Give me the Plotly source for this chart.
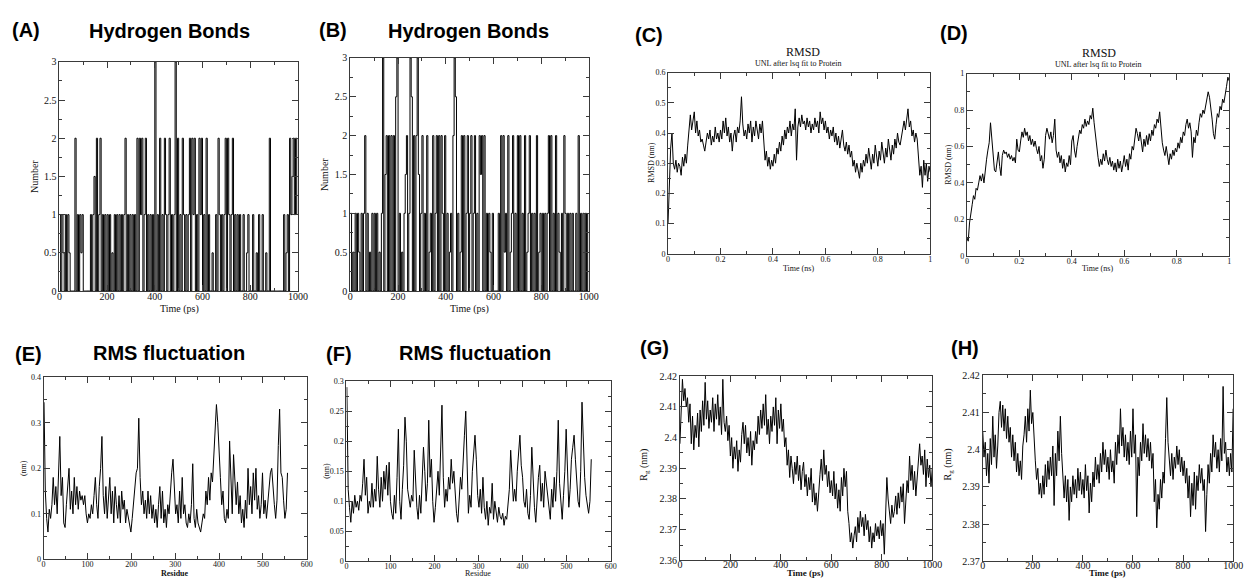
import plotly.graph_objects as go

# ---------------- DATA ----------------
hb_time = list(range(0, 1000, 5))  # ps
hbond_A = [
    1, 0, 1, 0.5, 0, 1, 0, 1, 0.5, 0, 0, 0, 0, 2, 0, 1, 0, 1, 0.5, 1,
    0, 0, 0, 0, 0, 0, 1, 0, 1, 1.5, 0, 2, 0, 1, 2, 0, 1, 0, 1, 0,
    1, 0, 1, 0, 0.5, 0, 1, 0, 1, 0, 1, 0, 1, 0, 1, 2, 0, 1, 0, 1,
    0, 1, 0, 1, 0, 2, 0, 2, 1, 2, 0, 1, 2, 0, 1, 0, 1, 0, 1, 0,
    3, 0, 1, 0, 2, 0, 1, 0, 2, 1, 0, 1, 2, 0, 1, 0, 1, 3, 0, 2,
    0, 1, 0, 2, 1, 0, 1, 0, 1, 2, 0, 2, 1, 2, 0, 1, 0, 2, 1, 2,
    0, 1, 0, 2, 0, 1, 0, 0, 0.5, 0, 0, 1, 0, 2, 1, 0, 1, 0, 1, 2,
    0, 2, 1, 0, 1, 2, 0, 1, 0, 1, 0, 1, 0, 0, 1, 0, 0, 0.5, 1, 0,
    0, 0, 1, 0, 0, 0.5, 0, 1, 0, 0, 1, 0, 0, 0.5, 0, 0, 2, 0, 0, 0,
    0, 0, 0, 0, 0, 0, 0, 0, 1, 0, 0.5, 1, 0, 2, 1, 1.5, 2, 1, 2, 1,
]
hbond_B = [
    1, 0, 0.5, 0, 1, 0, 1, 0.5, 0, 1, 0, 1, 2, 0, 1, 0, 0.5, 0, 1, 0,
    1, 0, 1, 0, 0.5, 0, 1, 3, 0, 1.5, 2, 0, 2, 0, 2, 0, 2, 0, 2.5, 3,
    0, 1, 0, 0.5, 0, 1, 1.5, 2, 0, 1, 3, 2.5, 0, 2, 0, 2, 3, 1.5, 0, 1,
    2, 0, 1, 0, 2, 0, 0.5, 1, 0, 2, 0, 1, 2, 0, 2, 0, 2, 1, 0, 2,
    0, 1, 0, 0.5, 1, 0, 2, 3, 2.5, 0, 1, 0, 0.5, 2, 0, 2, 0, 1, 2, 0,
    1, 2, 0, 1, 2, 0, 1, 0, 2, 1.5, 2, 0, 2, 0, 1, 0, 1, 0.5, 0, 1,
    0, 0, 0, 0, 1, 0, 2, 0, 2, 0.5, 1, 0, 2, 0, 0.5, 1, 2, 0, 1, 0,
    2, 0, 2, 0, 1, 0, 2, 0, 0.5, 1, 2, 0, 1, 0, 1, 0, 2, 0, 0.5, 1,
    0, 1, 0, 1, 0, 1, 2, 0, 2, 0, 1, 0, 2, 0, 1, 0.5, 0, 1, 0, 2,
    1, 0, 1, 0, 1, 0, 1, 0, 0, 1, 0, 2, 0, 1, 0, 1, 0, 1, 0, 1,
]

rmsd_time = [i * 0.005 for i in range(201)]  # ns
rmsd_C = [
    0.10, 0.26, 0.35, 0.40, 0.30, 0.28, 0.31, 0.27, 0.30, 0.29, 0.26, 0.32, 0.29, 0.33, 0.30, 0.36, 0.43, 0.46, 0.41, 0.45,
    0.47, 0.40, 0.44, 0.39, 0.41, 0.37, 0.38, 0.36, 0.34, 0.37, 0.40, 0.38, 0.41, 0.36, 0.39, 0.37, 0.42, 0.38, 0.40, 0.37,
    0.41, 0.38, 0.44, 0.40, 0.45, 0.39, 0.42, 0.37, 0.40, 0.34, 0.39, 0.41, 0.37, 0.42, 0.40, 0.44, 0.52, 0.43, 0.39, 0.41,
    0.38, 0.43, 0.40, 0.44, 0.37, 0.42, 0.39, 0.44, 0.41, 0.38, 0.43, 0.40, 0.44, 0.36, 0.31, 0.34, 0.29, 0.32, 0.28, 0.31,
    0.29, 0.33, 0.30, 0.35, 0.33, 0.37, 0.34, 0.39, 0.36, 0.41, 0.38, 0.42, 0.40, 0.44, 0.39, 0.43, 0.41, 0.48, 0.31, 0.42,
    0.45, 0.42, 0.46, 0.43, 0.44, 0.41, 0.45, 0.42, 0.44, 0.40, 0.43, 0.41, 0.45, 0.42, 0.44, 0.40, 0.47, 0.43, 0.45, 0.41,
    0.44, 0.40, 0.42, 0.38, 0.41, 0.39, 0.42, 0.37, 0.40, 0.36, 0.39, 0.35, 0.38, 0.41, 0.36, 0.34, 0.37, 0.33, 0.36, 0.32,
    0.34, 0.29, 0.31, 0.27, 0.30, 0.28, 0.25, 0.30, 0.27, 0.31, 0.29, 0.33, 0.30, 0.35, 0.31, 0.28, 0.33, 0.30, 0.36, 0.32,
    0.29, 0.34, 0.31, 0.37, 0.33, 0.30, 0.35, 0.32, 0.38, 0.34, 0.31, 0.36, 0.33, 0.38, 0.35, 0.40, 0.37, 0.36, 0.39, 0.42,
    0.44, 0.41, 0.45, 0.48, 0.42, 0.44, 0.39, 0.41, 0.37, 0.40, 0.38, 0.33, 0.26, 0.29, 0.22, 0.31, 0.26, 0.30, 0.24, 0.29,
    0.27,
]
rmsd_D = [
    0.10, 0.08, 0.18, 0.22, 0.28, 0.33, 0.31, 0.37, 0.36, 0.40, 0.44, 0.41, 0.45, 0.40, 0.49, 0.53, 0.58, 0.62, 0.73, 0.64,
    0.58, 0.47, 0.46, 0.51, 0.57, 0.49, 0.44, 0.55, 0.58, 0.56, 0.57, 0.54, 0.56, 0.53, 0.55, 0.52, 0.54, 0.51, 0.64, 0.58,
    0.57, 0.63, 0.68, 0.65, 0.70, 0.66, 0.68, 0.63, 0.66, 0.61, 0.64, 0.60, 0.63, 0.59, 0.56, 0.60, 0.52, 0.55, 0.48, 0.53,
    0.66, 0.70, 0.67, 0.64, 0.68, 0.62, 0.66, 0.75, 0.58, 0.54, 0.57, 0.51, 0.55, 0.48, 0.53, 0.46, 0.51, 0.49, 0.55, 0.50,
    0.63, 0.66, 0.58, 0.54, 0.60, 0.66, 0.69, 0.67, 0.72, 0.70, 0.75, 0.71, 0.74, 0.72, 0.77, 0.75, 0.81, 0.73, 0.66, 0.58,
    0.54, 0.49, 0.53, 0.50, 0.56, 0.52, 0.58, 0.53, 0.50, 0.54, 0.49, 0.52, 0.47, 0.51, 0.46, 0.53, 0.48, 0.52, 0.46, 0.50,
    0.55, 0.49, 0.53, 0.47, 0.56, 0.53, 0.60, 0.58, 0.66, 0.70, 0.67, 0.63, 0.68, 0.62, 0.57, 0.64, 0.60, 0.66, 0.61, 0.67,
    0.63, 0.69, 0.66, 0.72, 0.70, 0.75, 0.73, 0.79, 0.70, 0.62, 0.58, 0.55, 0.60, 0.54, 0.50, 0.56, 0.53, 0.58, 0.55, 0.59,
    0.57, 0.62, 0.59, 0.65, 0.62, 0.68, 0.66, 0.72, 0.75, 0.70, 0.73, 0.68, 0.54, 0.65, 0.62, 0.69, 0.66, 0.73, 0.78, 0.76,
    0.80, 0.78, 0.82, 0.86, 0.90, 0.87, 0.82, 0.75, 0.67, 0.64, 0.72, 0.78, 0.76, 0.82, 0.80, 0.86, 0.84, 0.90, 0.93, 0.98,
    0.96,
]

residues = list(range(1, 557, 3))
rmsf_E = [
    0.345, 0.15, 0.09, 0.06, 0.11, 0.09, 0.12, 0.18, 0.12, 0.16, 0.10, 0.20, 0.27, 0.14, 0.18, 0.08, 0.07, 0.12, 0.16, 0.20,
    0.11, 0.15, 0.10, 0.18, 0.12, 0.16, 0.11, 0.15, 0.13, 0.14, 0.12, 0.14, 0.10, 0.08, 0.10, 0.09, 0.12, 0.10, 0.14, 0.18,
    0.12, 0.09, 0.16, 0.20, 0.27, 0.14, 0.10, 0.16, 0.09, 0.13, 0.18, 0.10, 0.15, 0.08, 0.16, 0.12, 0.09, 0.14, 0.08, 0.15,
    0.11, 0.13, 0.08, 0.11, 0.09, 0.07, 0.06, 0.09, 0.12, 0.16, 0.19, 0.20, 0.31, 0.18, 0.12, 0.15, 0.10, 0.13, 0.09, 0.15,
    0.10, 0.14, 0.09, 0.12, 0.08, 0.11, 0.07, 0.12, 0.16, 0.09, 0.15, 0.08, 0.11, 0.07, 0.12, 0.10, 0.15, 0.19, 0.22, 0.14,
    0.10, 0.12, 0.08, 0.15, 0.09, 0.18, 0.10, 0.12, 0.08, 0.07, 0.10, 0.08, 0.12, 0.21, 0.09, 0.07, 0.11, 0.08, 0.07, 0.06,
    0.08, 0.10, 0.09, 0.15, 0.12, 0.18, 0.13, 0.19, 0.17, 0.23, 0.27, 0.34, 0.30, 0.25, 0.18, 0.12, 0.15, 0.09, 0.08, 0.11,
    0.09, 0.26, 0.15, 0.10, 0.23, 0.18, 0.12, 0.17, 0.10, 0.14, 0.08, 0.11, 0.07, 0.13, 0.09, 0.20, 0.12, 0.16, 0.10, 0.19,
    0.13, 0.20, 0.11, 0.14, 0.09, 0.12, 0.19, 0.10, 0.13, 0.09, 0.12, 0.16, 0.19, 0.20, 0.15, 0.12, 0.09, 0.13, 0.25, 0.33,
    0.19, 0.18, 0.13, 0.09, 0.11, 0.19,
]
rmsf_F = [
    0.29, 0.12, 0.09, 0.065, 0.10, 0.08, 0.11, 0.09, 0.10, 0.085, 0.11, 0.10, 0.13, 0.17, 0.11, 0.14, 0.08, 0.10, 0.09, 0.13,
    0.09, 0.12, 0.10, 0.175, 0.12, 0.09, 0.14, 0.10, 0.15, 0.12, 0.16, 0.11, 0.165, 0.10, 0.08, 0.07, 0.11, 0.08, 0.14, 0.22,
    0.10, 0.07, 0.12, 0.16, 0.24, 0.20, 0.12, 0.10, 0.09, 0.11, 0.10, 0.185, 0.12, 0.09, 0.07, 0.11, 0.08, 0.14, 0.19, 0.15,
    0.10, 0.13, 0.235, 0.14, 0.17, 0.10, 0.065, 0.09, 0.12, 0.15, 0.11, 0.18, 0.26, 0.14, 0.09, 0.12, 0.10, 0.14, 0.12, 0.17,
    0.13, 0.15, 0.11, 0.08, 0.065, 0.10, 0.14, 0.12, 0.18, 0.21, 0.25, 0.14, 0.08, 0.11, 0.09, 0.15, 0.19, 0.21, 0.17, 0.11,
    0.09, 0.12, 0.08, 0.14, 0.09, 0.07, 0.10, 0.06, 0.09, 0.08, 0.13, 0.07, 0.10, 0.08, 0.065, 0.09, 0.075, 0.07, 0.08, 0.06,
    0.075, 0.07, 0.09, 0.12, 0.185, 0.13, 0.10, 0.12, 0.10, 0.15, 0.18, 0.21, 0.16, 0.14, 0.10, 0.09, 0.12, 0.08, 0.07, 0.11,
    0.19, 0.12, 0.09, 0.065, 0.11, 0.14, 0.16, 0.10, 0.13, 0.09, 0.15, 0.13, 0.10, 0.08, 0.07, 0.12, 0.09, 0.14, 0.10, 0.15,
    0.235, 0.13, 0.09, 0.07, 0.11, 0.15, 0.22, 0.14, 0.09, 0.12, 0.17, 0.19, 0.21, 0.17, 0.13, 0.10, 0.09, 0.15, 0.265, 0.20,
    0.14, 0.11, 0.09, 0.08, 0.10, 0.17,
]

rg_time = list(range(0, 1001, 5))  # ps
rg_G = [
    2.398, 2.408, 2.419, 2.412, 2.416, 2.410, 2.413, 2.405, 2.411, 2.398, 2.407, 2.396, 2.404, 2.400, 2.408, 2.397, 2.409, 2.402, 2.412, 2.404,
    2.418, 2.406, 2.412, 2.403, 2.409, 2.405, 2.413, 2.402, 2.411, 2.406, 2.414, 2.404, 2.410, 2.401, 2.419, 2.405, 2.402, 2.407, 2.399, 2.404,
    2.394, 2.400, 2.390, 2.397, 2.393, 2.399, 2.389, 2.396, 2.392, 2.401, 2.405, 2.398, 2.404, 2.395, 2.400, 2.394, 2.402, 2.391, 2.399, 2.396,
    2.402, 2.398, 2.407, 2.401, 2.409, 2.403, 2.411, 2.404, 2.414, 2.401, 2.406, 2.398, 2.407, 2.402, 2.410, 2.404, 2.413, 2.398, 2.409, 2.403,
    2.411, 2.402, 2.406, 2.397, 2.400, 2.391, 2.396, 2.387, 2.394, 2.390, 2.385, 2.392, 2.388, 2.394, 2.386, 2.391, 2.383, 2.389, 2.392, 2.384,
    2.388, 2.381, 2.387, 2.383, 2.390, 2.379, 2.385, 2.378, 2.382, 2.376, 2.384, 2.388, 2.393, 2.386, 2.396, 2.388, 2.391, 2.384, 2.389, 2.382,
    2.386, 2.381, 2.389, 2.380, 2.385, 2.377, 2.383, 2.376, 2.387, 2.381, 2.390, 2.384, 2.389, 2.376, 2.372, 2.366, 2.369, 2.364, 2.368, 2.371,
    2.366, 2.374, 2.369, 2.376, 2.371, 2.374, 2.368, 2.375, 2.370, 2.373, 2.366, 2.371, 2.364, 2.369, 2.366, 2.372, 2.368, 2.371, 2.367, 2.373,
    2.368, 2.372, 2.362, 2.377, 2.387, 2.380, 2.376, 2.372, 2.378, 2.374, 2.376, 2.381, 2.375, 2.382, 2.377, 2.384, 2.379, 2.385, 2.372, 2.381,
    2.386, 2.382, 2.394, 2.386, 2.391, 2.383, 2.389, 2.381, 2.386, 2.392, 2.398, 2.391, 2.394, 2.388, 2.396, 2.384, 2.393, 2.387, 2.391, 2.384,
    2.390,
]
rg_H = [
    2.405, 2.398, 2.402, 2.393, 2.399, 2.391, 2.403, 2.396, 2.409, 2.398, 2.404, 2.395, 2.401, 2.410, 2.413, 2.406, 2.412, 2.405, 2.411, 2.403,
    2.409, 2.402, 2.406, 2.398, 2.404, 2.397, 2.402, 2.394, 2.399, 2.393, 2.397, 2.392, 2.401, 2.404, 2.409, 2.402, 2.411, 2.405, 2.416, 2.407,
    2.410, 2.401, 2.397, 2.392, 2.395, 2.388, 2.391, 2.387, 2.393, 2.388, 2.396, 2.390, 2.397, 2.392, 2.398, 2.393, 2.401, 2.385, 2.399, 2.393,
    2.405, 2.397, 2.409, 2.399, 2.394, 2.387, 2.393, 2.386, 2.392, 2.381, 2.390, 2.386, 2.393, 2.388, 2.392, 2.387, 2.395, 2.389, 2.394, 2.388,
    2.392, 2.387, 2.396, 2.389, 2.393, 2.383, 2.391, 2.386, 2.394, 2.390, 2.398, 2.392, 2.396, 2.391, 2.399, 2.394, 2.402, 2.396, 2.400, 2.394,
    2.398, 2.392, 2.400, 2.394, 2.397, 2.391, 2.402, 2.396, 2.404, 2.399, 2.411, 2.401, 2.406, 2.398, 2.404, 2.397, 2.402, 2.396, 2.405, 2.398,
    2.411, 2.399, 2.404, 2.382, 2.398, 2.393, 2.402, 2.397, 2.407, 2.399, 2.404, 2.398, 2.403, 2.397, 2.402, 2.395, 2.399, 2.386, 2.392, 2.379,
    2.388, 2.384, 2.392, 2.387, 2.394, 2.391, 2.403, 2.414, 2.402, 2.397, 2.393, 2.399, 2.392, 2.398, 2.395, 2.401, 2.396, 2.400, 2.394, 2.398,
    2.393, 2.397, 2.391, 2.395, 2.387, 2.393, 2.382, 2.391, 2.385, 2.394, 2.384, 2.393, 2.389, 2.396, 2.391, 2.395, 2.389, 2.392, 2.378, 2.388,
    2.396, 2.391, 2.399, 2.394, 2.404, 2.398, 2.402, 2.395, 2.400, 2.394, 2.403, 2.397, 2.417, 2.399, 2.402, 2.394, 2.398, 2.393, 2.399, 2.394,
    2.411,
]

# ---------------- LAYOUT ----------------
W, H = 1255, 584
SERIF = "Liberation Serif, Times New Roman, serif"
SANS = "Liberation Sans, Arial, sans-serif"
AXC = "#3a3a3a"


def xd(a, b):
    return [a / W, b / W]


def yd(top, bottom):
    return [1 - bottom / H, 1 - top / H]


# (x_px, y_px, xrange, xdtick, xminor, yrange, ydtick, yminor, tickfont size, x label standoff)
panels = [
    ((57, 298), (57, 291), [0, 1000], 200, 100, [0, 3], 0.5, 0.25, 10, -4),
    ((351, 592), (53, 291), [0, 1000], 200, 100, [0, 3], 0.5, 0.25, 10, -4),
    ((672, 937), (68, 253), [0, 1], 0.2, 0.1, [0, 0.6], 0.1, 0.05, 8, -2),
    ((974, 1239), (69, 255), [0, 1], 0.2, 0.1, [0, 1], 0.2, 0.1, 8, -2),
    ((41, 307), (379, 565), [0, 600], 100, 50, [0, 0.4], 0.1, 0.05, 8, -3),
    ((347, 614), (383, 567), [0, 600], 100, 50, [0, 0.3], 0.05, 0.025, 8, -3),
    ((684, 939), (378, 566), [0, 1000], 200, 100, [2.36, 2.42], 0.01, 0.005, 10, -5),
    ((990, 1243), (377, 567), [0, 1000], 200, 100, [2.37, 2.42], 0.01, 0.005, 10, -5),
]

series = [
    (hb_time, hbond_A, "hv"),
    (hb_time, hbond_B, "hv"),
    (rmsd_time, rmsd_C, "linear"),
    (rmsd_time, rmsd_D, "linear"),
    (residues, rmsf_E, "linear"),
    (residues, rmsf_F, "linear"),
    (rg_time, rg_G, "linear"),
    (rg_time, rg_H, "linear"),
]

fig = go.Figure()
layout = dict(
    width=W, height=H, margin=dict(l=0, r=0, t=0, b=0),
    paper_bgcolor="white", plot_bgcolor="white", showlegend=False,
)

for i, (p, s) in enumerate(zip(panels, series)):
    (xa, xb), (yt, yb), xr, xdt, xmn, yr, ydt, ymn, fs, sto = p
    n = "" if i == 0 else str(i + 1)
    common = dict(
        showline=True, linecolor=AXC, linewidth=1, mirror="ticks",
        ticks="inside", ticklen=6, tickcolor=AXC, tickwidth=1,
        showgrid=False, zeroline=False,
        tickfont=dict(family=SERIF, size=fs, color="#111"),
        fixedrange=True,
    )
    layout["xaxis" + n] = dict(
        common, domain=xd(xa, xb), range=xr, dtick=xdt, tick0=xr[0],
        anchor="y" + n, ticklabelstandoff=sto,
        minor=dict(ticks="inside", ticklen=3, dtick=xmn, tick0=xr[0], tickcolor=AXC),
    )
    layout["yaxis" + n] = dict(
        common, domain=yd(yt, yb), range=yr, dtick=ydt, tick0=yr[0],
        anchor="x" + n,
        minor=dict(ticks="inside", ticklen=3, dtick=ymn, tick0=yr[0], tickcolor=AXC),
    )
    fig.add_trace(go.Scatter(
        x=s[0], y=s[1], mode="lines",
        line=dict(color="black", width=1, shape=s[2]),
        xaxis="x" + n, yaxis="y" + n, hoverinfo="skip",
    ))

ann = []


def txt(x, y, t, size, family=SERIF, angle=0, color="#111"):
    ann.append(dict(
        x=x / W, y=1 - y / H, xref="paper", yref="paper", text=t,
        showarrow=False, xanchor="center", yanchor="middle", textangle=angle,
        font=dict(family=family, size=size, color=color),
    ))


# panel letters and bold headings
for lab, x, y in [("(A)", 23, 25), ("(B)", 333, 24), ("(C)", 653, 30), ("(D)", 961, 28),
                  ("(E)", 26, 355), ("(F)", 340, 355), ("(G)", 658, 349), ("(H)", 972, 349)]:
    txt(x, y, "<b>" + lab + "</b>", 20, SANS, color="black")
txt(168, 26, "<b>Hydrogen Bonds</b>", 20, SANS, color="black")
txt(470, 26, "<b>Hydrogen Bonds</b>", 20, SANS, color="black")
txt(168, 354, "<b>RMS fluctuation</b>", 20, SANS, color="black")
txt(477, 354, "<b>RMS fluctuation</b>", 20, SANS, color="black")

# RMSD titles
txt(808, 47, "RMSD", 12)
txt(804, 59, "UNL after lsq fit to Protein", 8)
txt(1107, 48, "RMSD", 12)
txt(1107, 60, "UNL after lsq fit to Protein", 8)

# axis titles
txt(32, 174, "Number", 10, angle=-90)
txt(178, 309, "Time (ps)", 10)
txt(325, 172, "Number", 10, angle=-90)
txt(471, 309, "Time (ps)", 10)
txt(655, 160, "RMSD (nm)", 8, angle=-90)
txt(804, 268, "Time (ns)", 8)
txt(956, 162, "RMSD (nm)", 8, angle=-90)
txt(1106, 268, "Time (ns)", 8)
txt(21, 472, "(nm)", 8, angle=-90)
txt(174, 579, "<b>Residue</b>", 8)
txt(327, 475, "(nm)", 8, angle=-90)
txt(480, 579, "Residue", 8)
txt(648, 468, "R<sub>g</sub> (nm)", 10, angle=-90)
txt(811, 579, "<b>Time (ps)</b>", 9)
txt(955, 468, "R<sub>g</sub> (nm)", 10, angle=-90)
txt(1116, 579, "<b>Time (ps)</b>", 9)

layout["annotations"] = ann
fig.update_layout(**layout)
fig.write_html(
    "out.html",
    config={"displayModeBar": False},
    post_script="document.body.style.margin='0';document.body.style.overflow='hidden';",
)
